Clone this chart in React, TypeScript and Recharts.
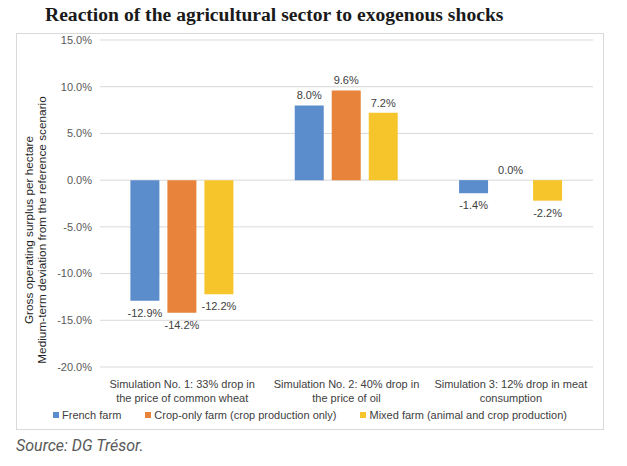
import { BarChart, Bar, XAxis, YAxis, CartesianGrid, LabelList } from "recharts";

const categories = [
  "Simulation No. 1: 33% drop in\nthe price of common wheat",
  "Simulation No. 2: 40% drop in\nthe price of oil",
  "Simulation 3: 12% drop in meat\nconsumption",
];
const frenchFarm = [-12.9, 8.0, -1.4];
const cropOnlyFarm = [-14.2, 9.6, 0.0];
const mixedFarm = [-12.2, 7.2, -2.2];
const yTicks = [-20, -15, -10, -5, 0, 5, 10, 15];

const seriesNames = [
  "French farm",
  "Crop-only farm (crop production only)",
  "Mixed farm (animal and crop production)",
];
const colors = ["#5B8DCD", "#E7833B", "#F6C52C"];

const data = categories.map((name, i) => ({
  name,
  french: frenchFarm[i],
  crop: cropOnlyFarm[i],
  mixed: mixedFarm[i],
}));

const FONT = "'Liberation Sans', Arial, sans-serif";
const fmt = (v: number) => `${v.toFixed(1)}%`;

const ValueLabel = (props: any) => {
  const { x, y, width, height, value } = props;
  const v = Number(value);
  const top = Math.min(y, y + height);
  const bottom = Math.max(y, y + height);
  const cx = x + width / 2;
  const ty = v >= 0 ? top - 6 : bottom + 16;
  return (
    <text x={cx} y={ty} textAnchor="middle" fontSize={11} fontFamily={FONT} fill="#404040">
      {fmt(v)}
    </text>
  );
};

const CategoryTick = (props: any) => {
  const { x, y, payload } = props;
  const lines = String(payload.value).split("\n");
  return (
    <text x={x} y={y} textAnchor="middle" fontSize={11} fontFamily={FONT} fill="#404040">
      {lines.map((l, i) => (
        <tspan key={i} x={x} dy={i === 0 ? 13 : 13.5}>
          {l}
        </tspan>
      ))}
    </text>
  );
};

export default function App() {
  return (
    <div
      style={{
        position: "absolute",
        left: 0,
        top: 0,
        width: 627,
        height: 466,
        background: "#fff",
        overflow: "hidden",
      }}
    >
      <div
        style={{
          position: "absolute",
          left: 45,
          top: 4,
          fontFamily: "'Liberation Serif', 'DejaVu Serif', serif",
          fontWeight: 700,
          fontSize: 19.6,
          color: "#1a1a1a",
          whiteSpace: "nowrap",
        }}
      >
        Reaction of the agricultural sector to exogenous shocks
      </div>
      <div
        style={{
          position: "absolute",
          left: 16,
          top: 33,
          width: 586,
          height: 395,
          border: "1px solid #d9d9d9",
        }}
      />
      <div style={{ position: "absolute", left: 0, top: 0 }}>
        <BarChart
          width={627}
          height={466}
          data={data}
          margin={{ top: 40, right: 34, bottom: 59, left: 0 }}
          barCategoryGap="18.5%"
          barGap={8}
        >
          <CartesianGrid vertical={false} stroke="#d9d9d9" />
          <XAxis
            dataKey="name"
            axisLine={false}
            tickLine={false}
            height={40}
            interval={0}
            tick={<CategoryTick />}
          />
          <YAxis
            width={100}
            domain={[-20, 15]}
            ticks={yTicks}
            tickFormatter={fmt}
            axisLine={false}
            tickLine={false}
            tick={{ fontSize: 11, fontFamily: FONT, fill: "#595959" }}
            label={() => (
              <text
                transform="translate(36,230) rotate(-90)"
                fontSize={11.8}
                fontFamily={FONT}
                fill="#262626"
                textAnchor="middle"
              >
                <tspan x={0} y={-3}>Gross operating surplus per hectare</tspan>
                <tspan x={0} y={10}>Medium-term deviation from the reference scenario</tspan>
              </text>
            )}
          />
          <Bar dataKey="french" fill={colors[0]} isAnimationActive={false}>
            <LabelList dataKey="french" content={<ValueLabel />} />
          </Bar>
          <Bar dataKey="crop" fill={colors[1]} isAnimationActive={false} minPointSize={0.01}>
            <LabelList dataKey="crop" content={<ValueLabel />} />
          </Bar>
          <Bar dataKey="mixed" fill={colors[2]} isAnimationActive={false}>
            <LabelList dataKey="mixed" content={<ValueLabel />} />
          </Bar>
        </BarChart>
      </div>
      <div
        style={{
          position: "absolute",
          left: 53,
          top: 409,
          display: "flex",
          gap: 24,
          fontFamily: FONT,
          fontSize: 11,
          color: "#404040",
          whiteSpace: "nowrap",
        }}
      >
        {seriesNames.map((n, i) => (
          <div key={n} style={{ display: "flex", alignItems: "center" }}>
            <span
              style={{
                display: "inline-block",
                width: 6,
                height: 6,
                background: colors[i],
                marginRight: 3,
              }}
            />
            {n}
          </div>
        ))}
      </div>
      <div
        style={{
          position: "absolute",
          left: 16,
          top: 436,
          fontFamily: "Roboto, 'Noto Sans', sans-serif",
          fontStyle: "italic",
          fontSize: 16,
          color: "#595959",
        }}
      >
        Source: DG Trésor.
      </div>
    </div>
  );
}
